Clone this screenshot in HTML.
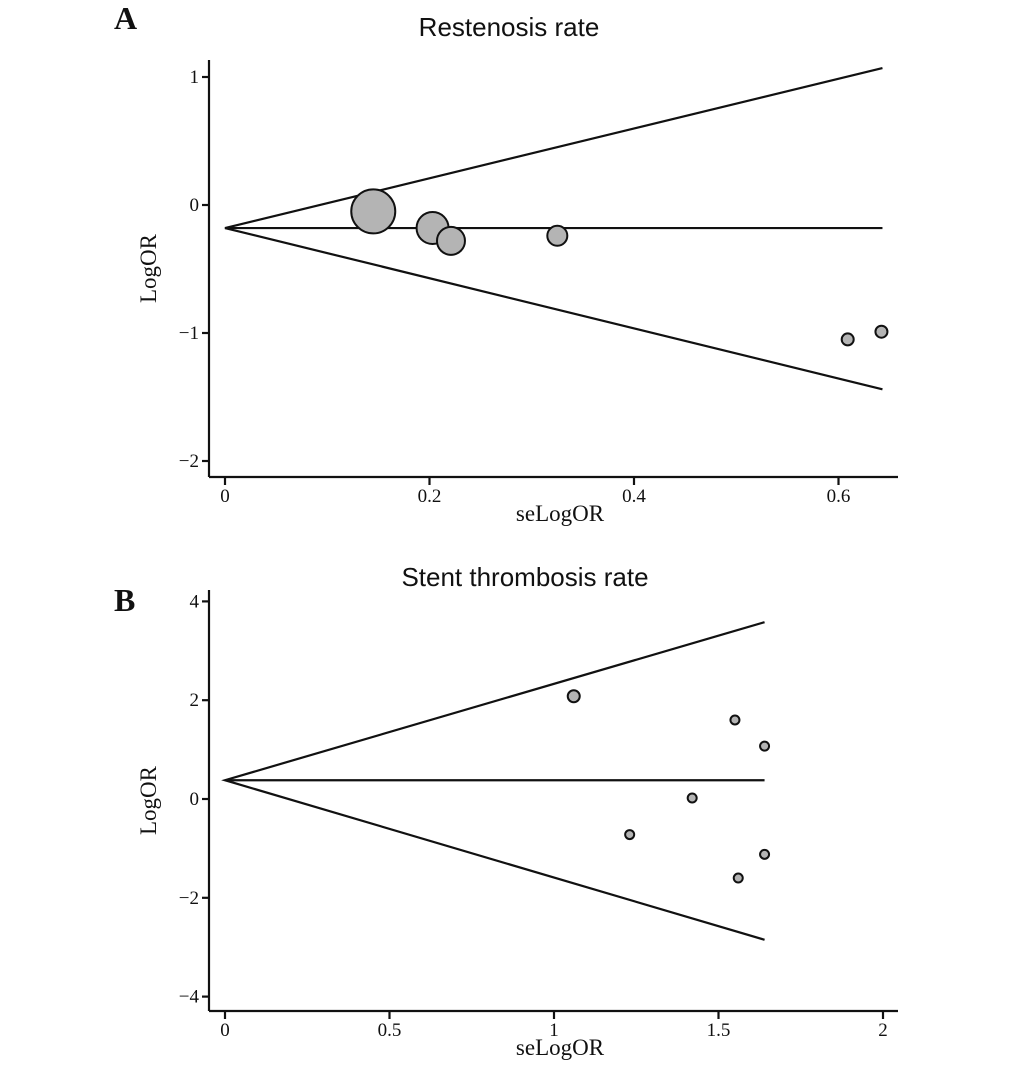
<!DOCTYPE html>
<html><head><meta charset="utf-8"><style>
body{margin:0;background:#fff}
svg{display:block}
.t{font-family:"Liberation Serif",serif;font-size:19px;fill:#111}
.h{font-family:"Liberation Sans",sans-serif;font-size:26px;fill:#111}
.p{font-family:"Liberation Serif",serif;font-size:32px;font-weight:bold;fill:#111}
</style></head><body>
<svg id="c" width="1033" height="1073"></svg>
<script>
const aX=[0.145,0.203,0.221,0.325,0.609,0.642];
const aY=[-0.05,-0.18,-0.28,-0.24,-1.05,-0.99];
const aR=[22,16,14,10,6,6];
const aXT=[0,0.2,0.4,0.6];
const aYT=[1,0,-1,-2];
const aFunnel=[0,-0.18,0.643,1.07,-1.44];
const bX=[1.06,1.55,1.64,1.42,1.23,1.56,1.64];
const bY=[2.08,1.6,1.07,0.02,-0.72,-1.6,-1.12];
const bR=[6,4.5,4.5,4.5,4.5,4.5,4.5];
const bXT=[0,0.5,1,1.5,2];
const bYT=[4,2,0,-2,-4];
const bFunnel=[0,0.38,1.64,3.58,-2.85];
const NS='http://www.w3.org/2000/svg';
const svg=document.getElementById('c');
function mk(t,a,p){const e=document.createElementNS(NS,t);for(const k in a)e.setAttribute(k,a[k]);(p||svg).appendChild(e);return e;}
function panel(cfg){
  const g=mk('g',{});
  
  
  const sx=v=>cfg.x0+v*cfg.kx, sy=v=>cfg.y0-v*cfg.ky;
  const st={stroke:'#111','stroke-width':2.2,fill:'none'};
  let e=mk('line',Object.assign({x1:209,y1:cfg.yTop,x2:209,y2:cfg.axY},st),g);
  
  e=mk('line',Object.assign({x1:209,y1:cfg.axY,x2:cfg.xEnd,y2:cfg.axY},st),g);
  
  cfg.yt.forEach(v=>{mk('line',Object.assign({x1:202,y1:sy(v),x2:209,y2:sy(v)},st),g);
    const t=mk('text',{x:199,y:sy(v)+6,'text-anchor':'end',class:'t'},g);t.textContent=(v<0?'\u2212'+(-v):v);
    });
  cfg.xt.forEach(v=>{mk('line',Object.assign({x1:sx(v),y1:cfg.axY,x2:sx(v),y2:cfg.axY+8},st),g);
    const t=mk('text',{x:sx(v),y:cfg.axY+25,'text-anchor':'middle',class:'t'},g);t.textContent=v;
    });
  const f=cfg.f;
  e=mk('polyline',Object.assign({points:`${sx(f[2])},${sy(f[3])} ${sx(f[0])},${sy(f[1])} ${sx(f[2])},${sy(f[4])}`},st),g);
  
  e=mk('line',Object.assign({x1:sx(f[0]),y1:sy(f[1]),x2:sx(f[2]),y2:sy(f[1])},st),g);
  
  cfg.px.forEach((v,i)=>{const c=mk('circle',{cx:sx(v),cy:sy(cfg.py[i]),r:cfg.pr[i],fill:'#b4b4b4',stroke:'#111','stroke-width':2},g);
    });
  let t=mk('text',{x:cfg.titleX,y:cfg.titleY,'text-anchor':'middle',class:'h'},g);t.textContent=cfg.title;
  
  t=mk('text',{x:560,y:cfg.axY+44,'text-anchor':'middle',class:'t',style:'font-size:23px'},g);t.textContent='seLogOR';
  
  const ym=(cfg.yTop+cfg.axY)/2;
  t=mk('text',{x:156,y:ym,'text-anchor':'middle',class:'t',style:'font-size:23px',transform:`rotate(-90 156 ${ym})`},g);t.textContent='LogOR';
  
  t=mk('text',{x:114,y:cfg.labY,class:'p'},g);t.textContent=cfg.lab;
  
}
panel({name:'panel-a-restenosis',x0:225,kx:1022.5,y0:205,ky:128,yTop:60,axY:477,xEnd:898,xt:aXT,yt:aYT,f:aFunnel,px:aX,py:aY,pr:aR,title:'Restenosis rate',titleX:509,titleY:36,lab:'A',labY:29});
panel({name:'panel-b-stent-thrombosis',x0:225,kx:329,y0:799,ky:49.4,yTop:590,axY:1011,xEnd:898,xt:bXT,yt:bYT,f:bFunnel,px:bX,py:bY,pr:bR,title:'Stent thrombosis rate',titleX:525,titleY:586,lab:'B',labY:611});
</script>
</body></html>
